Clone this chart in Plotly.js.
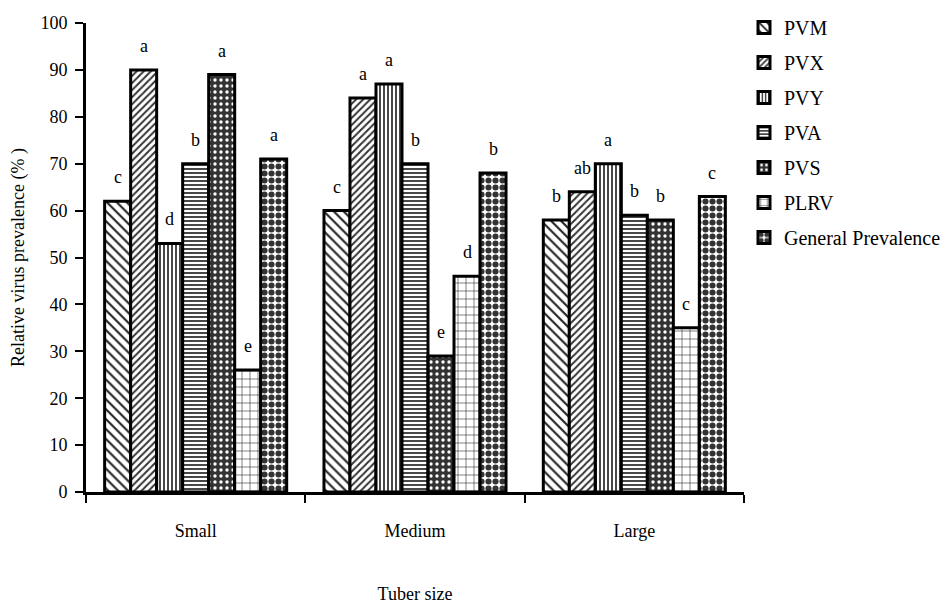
<!DOCTYPE html>
<html>
<head>
<meta charset="utf-8">
<script src="https://cdn.plot.ly/plotly-3.0.1.min.js"></script>
<style>html,body{margin:0;padding:0;background:#fff;}#chart{width:945px;height:604px;}</style>
</head>
<body>
<div id="chart"></div>
<script>
const categories = ["Small", "Medium", "Large"];
const seriesNames = ["PVM", "PVX", "PVY", "PVA", "PVS", "PLRV", "General Prevalence"];
const PVM = [62, 60, 58];
const PVX = [90, 84, 64];
const PVY = [53, 87, 70];
const PVA = [70, 70, 59];
const PVS = [89, 29, 58];
const PLRV = [26, 46, 35];
const GEN = [71, 68, 63];
const lettersPVM = ["c", "c", "b"];
const lettersPVX = ["a", "a", "ab"];
const lettersPVY = ["d", "a", "a"];
const lettersPVA = ["b", "b", "b"];
const lettersPVS = ["a", "e", "b"];
const lettersPLRV = ["e", "d", "c"];
const lettersGEN = ["a", "b", "c"];

const values = [PVM, PVX, PVY, PVA, PVS, PLRV, GEN];
const letters = [lettersPVM, lettersPVX, lettersPVY, lettersPVA, lettersPVS, lettersPLRV, lettersGEN];

const patterns = [
  {shape: "\\", fgcolor: "#222", bgcolor: "#fff", size: 7, solidity: 0.3},
  {shape: "/", fgcolor: "#333", bgcolor: "#fff", size: 5, solidity: 0.4},
  {shape: "|", fgcolor: "#333", bgcolor: "#fff", size: 4, solidity: 0.45},
  {shape: "-", fgcolor: "#333", bgcolor: "#fff", size: 4, solidity: 0.45},
  {shape: ".", fgcolor: "#fff", bgcolor: "#333", size: 6, solidity: 0.25},
  {shape: "+", fgcolor: "#333", bgcolor: "#fff", size: 8, solidity: 0.15},
  {shape: ".", fgcolor: "#333", bgcolor: "#fff", size: 7, solidity: 0.6}
];

const font = "Liberation Serif";
const fs = 18;
const bargap = 0.17;
const n = seriesNames.length;

const traces = seriesNames.map((name, i) => ({
  type: "bar",
  name: name,
  x: categories,
  y: values[i],
  legendgroup: "g" + i,
  marker: {
    color: patterns[i].bgcolor,
    line: {color: "#000", width: 3},
    pattern: {
      shape: patterns[i].shape,
      fgcolor: patterns[i].fgcolor,
      bgcolor: patterns[i].bgcolor,
      size: patterns[i].size,
      solidity: patterns[i].solidity,
      fillmode: "replace"
    }
  },
  hoverinfo: "skip"
}));

const annotations = [];
values.forEach((vals, i) => {
  vals.forEach((v, c) => {
    const off = -(1 - bargap) / 2 + (i + 0.5) * (1 - bargap) / n;
    annotations.push({
      x: c + off, y: v, xref: "x", yref: "y",
      text: letters[i][c], showarrow: false,
      yanchor: "bottom", yshift: 12,
      font: {family: font, size: fs, color: "#000"}
    });
  });
});

const layout = {
  width: 945, height: 604,
  margin: {l: 86, r: 196, t: 23, b: 112},
  paper_bgcolor: "#fff", plot_bgcolor: "#fff",
  font: {family: font, size: fs, color: "#000"},
  barmode: "group",
  bargap: bargap,
  bargroupgap: 0,
  showlegend: true,
  legend: {
    xref: "container", x: 744 / 945, xanchor: "left",
    yref: "paper", y: 1.032, yanchor: "top",
    font: {family: font, size: 20, color: "#000"},
    tracegroupgap: 6,
    itemwidth: 30,
    bgcolor: "rgba(0,0,0,0)"
  },
  xaxis: {
    type: "category",
    showline: true, linecolor: "#000", linewidth: 3,
    ticks: "outside", tickson: "boundaries", ticklen: 8, tickwidth: 2, tickcolor: "#000",
    ticklabelstandoff: 20,
    showgrid: false, zeroline: false,
    tickfont: {family: font, size: fs, color: "#000"},
    title: {text: "Tuber size", standoff: 52, font: {family: font, size: fs, color: "#000"}}
  },
  yaxis: {
    range: [0, 100], autorange: false,
    dtick: 10, tick0: 0,
    showline: true, linecolor: "#000", linewidth: 3,
    ticks: "outside", ticklen: 8, tickwidth: 2, tickcolor: "#000",
    ticklabelstandoff: 4,
    showgrid: false, zeroline: false,
    tickfont: {family: font, size: fs, color: "#000"},
    title: {text: "Relative virus prevalence (% )", standoff: 12, font: {family: font, size: fs, color: "#000"}}
  },
  annotations: annotations
};

Plotly.newPlot("chart", traces, layout, {displayModeBar: false, staticPlot: true});
</script>
</body>
</html>
